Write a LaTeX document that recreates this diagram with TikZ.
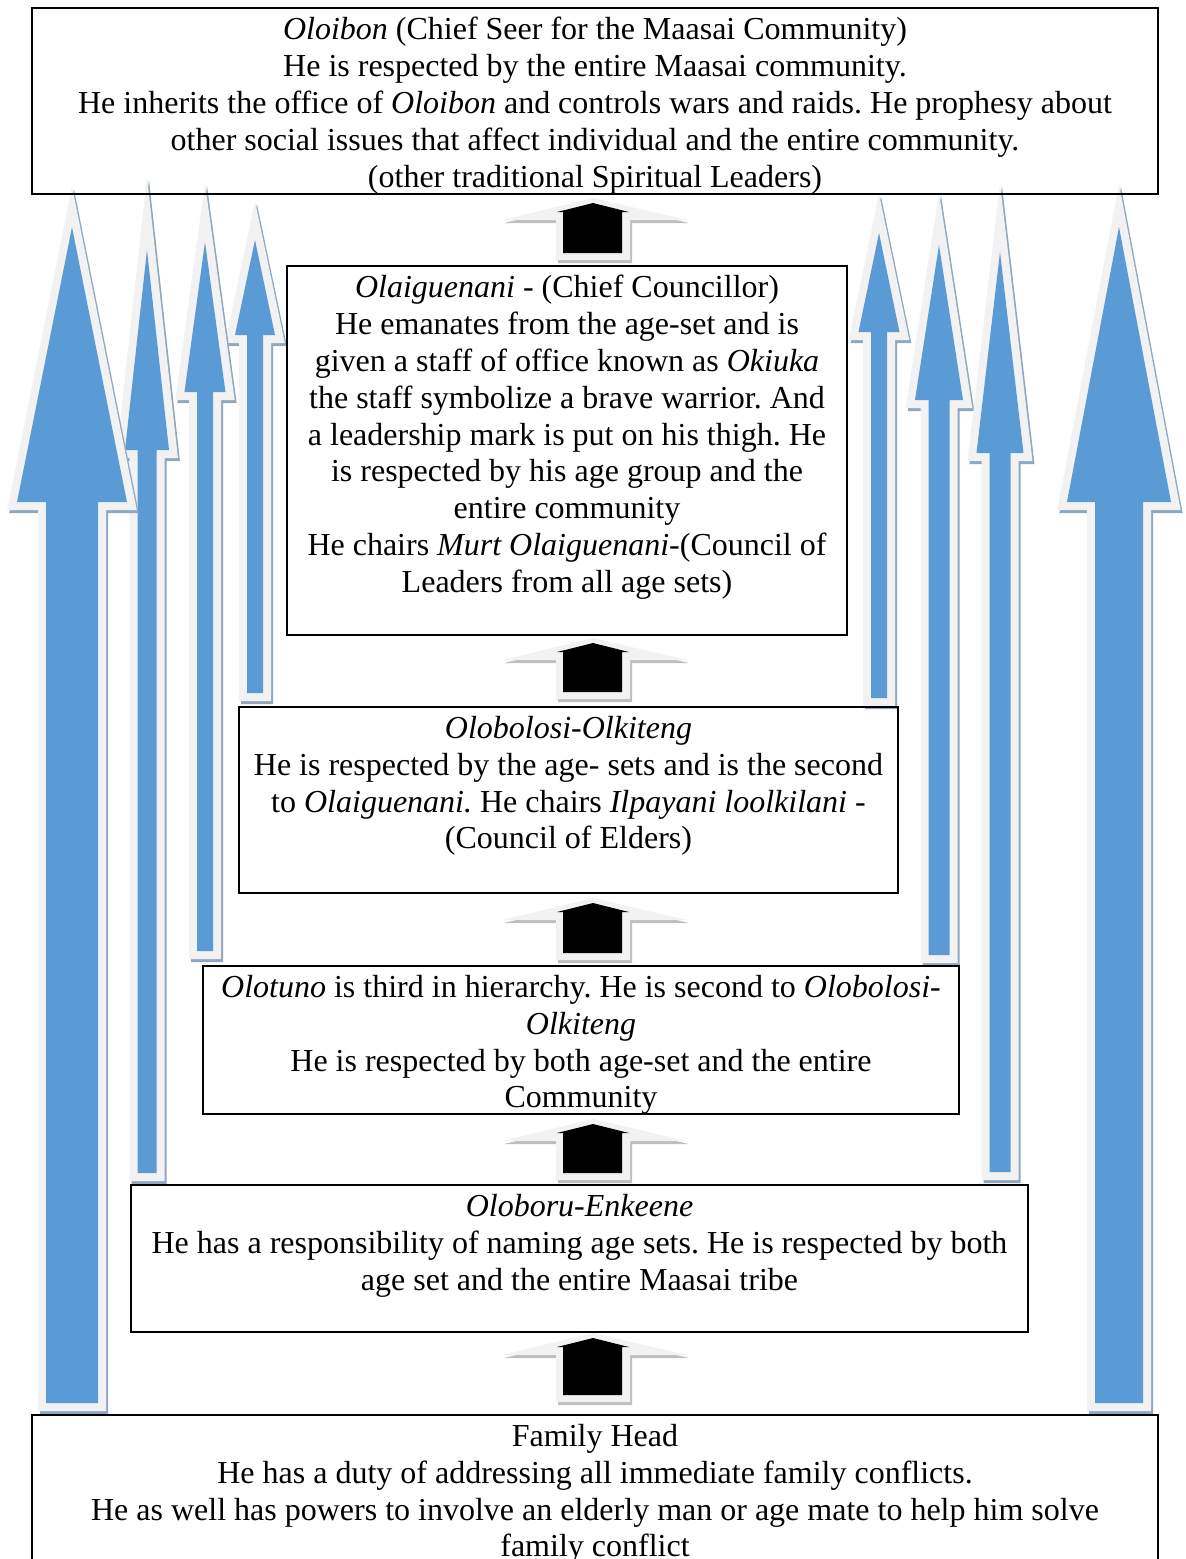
\documentclass[tikz,border=0pt]{standalone}
\usepackage{fontspec}
\setmainfont{Liberation Serif}
\usetikzlibrary{calc}
\frenchspacing

\definecolor{arrowblue}{RGB}{91,155,213}
\definecolor{rimgrey}{RGB}{242,242,242}
\definecolor{shadowblue}{RGB}{143,168,192}
\definecolor{shadowgrey}{RGB}{190,190,190}

\tikzset{
  box/.style={draw, line width=1.1pt, inner sep=0pt},
  boxtext/.style={anchor=north, inner sep=0pt, align=center,
    font=\fontsize{16pt}{18.4pt}\selectfont},
  arrshadow/.style={draw=shadowblue, line width=8pt, line join=miter, miter limit=25},
  arrrim/.style={draw=rimgrey, fill=rimgrey, line width=8pt, line join=miter, miter limit=25},
  arrfill/.style={fill=arrowblue},
}

% blue arrow: centre x, tip y, head base y, head half width, shaft half width, bottom y
\newcommand{\blueup}[6]{%
  \draw[arrshadow, shift={(2,3)}] ({#1-#5},#6) -- ({#1-#5},#3) -- ({#1-#4},#3) -- (#1,#2)
    -- ({#1+#4},#3) -- ({#1+#5},#3) -- ({#1+#5},#6) -- cycle;
  \draw[arrrim] ({#1-#5},#6) -- ({#1-#5},#3) -- ({#1-#4},#3) -- (#1,#2)
    -- ({#1+#4},#3) -- ({#1+#5},#3) -- ({#1+#5},#6) -- cycle;
  \fill[arrfill] ({#1-#5},#6) -- ({#1-#5},#3) -- ({#1-#4},#3) -- (#1,#2)
    -- ({#1+#4},#3) -- ({#1+#5},#3) -- ({#1+#5},#6) -- cycle;
}

% black arrow between two boxes: apex y, body height
\newcommand{\blackup}[2]{%
  \fill[shadowgrey, shift={(2,3)}] (502,{#1+17}) -- (593,{#1-5}) -- (687,{#1+17}) -- (630,{#1+17})
    -- (630,{#1+#2+7}) -- (556,{#1+#2+7}) -- (556,{#1+17}) -- cycle;
  \fill[rimgrey] (502,{#1+17}) -- (593,{#1-5}) -- (687,{#1+17}) -- (630,{#1+17})
    -- (630,{#1+#2+7}) -- (556,{#1+#2+7}) -- (556,{#1+17}) -- cycle;
  \fill[black] (557,{#1+9}) -- (593,#1) -- (629,{#1+9}) -- (622,{#1+9})
    -- (622,{#1+#2}) -- (563,{#1+#2}) -- (563,{#1+9}) -- cycle;
}

\begin{document}
\begin{tikzpicture}[x=0.5pt, y=-0.5pt]
    \useasboundingbox (0,0) rectangle (1186,1559);
    \begin{scope}
    \clip (0,0) rectangle (1186,1559);

    % Blue arrows, left side
    \blueup{255}{240}{335}{20}{8}{693}
    \blueup{205}{242}{392}{20.5}{8}{951}
    \blueup{147}{250}{450}{22}{9.5}{1173}
    \blueup{72}{227}{502}{55}{26}{1403}

    % Blue arrows, right side
    \blueup{879}{233}{332}{20.5}{8}{698}
    \blueup{939}{245}{400}{24}{10.5}{955}
    \blueup{1000}{252}{453}{23.5}{10.5}{1172}
    \blueup{1119}{227}{502}{52}{24}{1403}

    % Black arrows
    \blackup{203}{50}
    \blackup{643}{49}
    \blackup{903}{50}
    \blackup{1124}{49}
    \blackup{1338}{57}

    % Boxes
    \node[box, minimum width=563pt, minimum height=93pt] (seer) at (595,101) {};
    \node[box, minimum width=280pt, minimum height=184.5pt] (councillor) at (567,450.5) {};
    \node[box, minimum width=329.5pt, minimum height=93pt] (olkiteng) at (568.5,800) {};
    \node[box, minimum width=378pt, minimum height=74pt] (olotuno) at (581,1040) {};
    \node[box, minimum width=448.5pt, minimum height=73.5pt] (oloboru) at (579.5,1258.5) {};
    \node[box, minimum width=563pt, minimum height=77.5pt] (family) at (595,1492.5) {};

    % Texts
    \node[boxtext, yshift=-5pt] (seertext) at (seer.north) {\textit{Oloibon} (Chief Seer for the Maasai Community)\\
      He is respected by the entire Maasai community.\\
      He inherits the office of \textit{Oloibon} and controls wars and raids. He prophesy about\\
      other social issues that affect individual and the entire community.\\
      (other traditional Spiritual Leaders)};
    \node[boxtext, yshift=-5pt] (councillortext) at (councillor.north) {\textit{Olaiguenani} - (Chief Councillor)\\
      He emanates from the age-set and is\\
      given a staff of office known as \textit{Okiuka}\\
      the staff symbolize a brave warrior. And\\
      a leadership mark is put on his thigh. He\\
      is respected by his age group and the\\
      entire community\\
      He chairs \textit{Murt Olaiguenani}-(Council of\\
      Leaders from all age sets)};
    \node[boxtext, yshift=-5pt] (olkitengtext) at (olkiteng.north) {\textit{Olobolosi-Olkiteng}\\
      He is respected by the age- sets and is the second\\
      to \textit{Olaiguenani.} He chairs \textit{Ilpayani loolkilani} -\\
      (Council of Elders)};
    \node[boxtext, yshift=-5pt] (olotunotext) at (olotuno.north) {\textit{Olotuno} is third in hierarchy. He is second to \textit{Olobolosi-}\\
      \textit{Olkiteng}\\
      He is respected by both age-set and the entire\\
      Community};
    \node[boxtext, yshift=-5pt] (olobortext) at (oloboru.north) {\textit{Oloboru-Enkeene}\\
      He has a responsibility of naming age sets. He is respected by both\\
      age set and the entire Maasai tribe};
    \node[boxtext, yshift=-5pt] (familytext) at (family.north) {Family Head\\
      He has a duty of addressing all immediate family conflicts.\\
      He as well has powers to involve an elderly man or age mate to help him solve\\
      family conflict};
    \end{scope}
\end{tikzpicture}
\end{document}
